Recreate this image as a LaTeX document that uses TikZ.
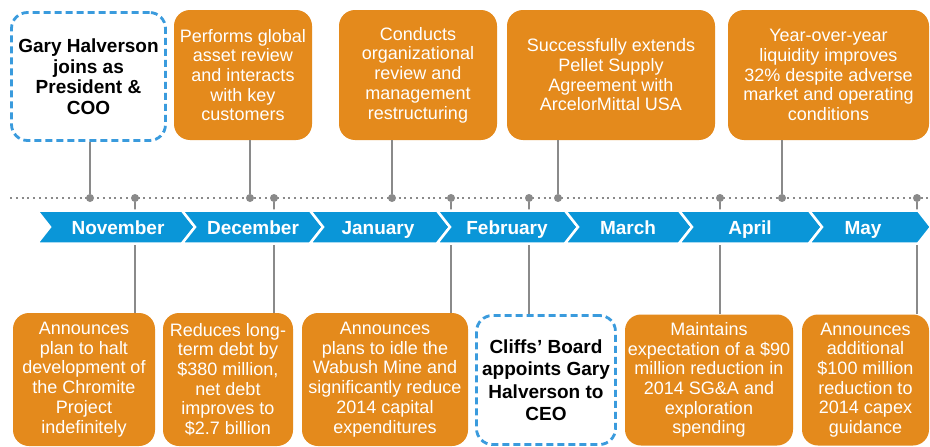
\documentclass[tikz,border=0pt]{standalone}
\usepackage{fontspec}
\setmainfont{Liberation Sans}
\definecolor{orng}{HTML}{E48A1C}
\definecolor{chev}{HTML}{0A96D8}
\definecolor{dashb}{HTML}{3A9BDD}
\definecolor{lgray}{HTML}{8A8A8A}
\begin{document}
\begin{tikzpicture}[x=1pt,y=-1pt,
 obox/.style={fill=orng, rounded corners=16pt, text=white, align=center, font=\fontsize{18}{19.7}\selectfont, inner sep=0pt},
 dbox/.style={fill=white, draw=dashb, line width=2.8pt, dash pattern=on 7pt off 4pt, rounded corners=16pt, align=center, text=black, font=\bfseries\fontsize{19}{20.5}\selectfont, inner sep=0pt},
 conn/.style={draw=lgray, line width=1.5pt},
 tdot/.style={circle, fill=lgray, inner sep=0pt, minimum size=8pt},
 chevshape/.style={fill=chev, draw=white, line width=2.5pt, line join=miter},
 mlabel/.style={text=white, font=\bfseries\fontsize{19}{20}\selectfont, inner sep=0pt, anchor=base}
]
\useasboundingbox[fill=white] (0,0) rectangle (930,447);

% dotted timeline
\coordinate (dl) at (10,198);
\coordinate (dr) at (930,198);
\draw[draw=lgray, line width=2pt, dash pattern=on 2pt off 3.8pt] (dl) -- (dr);

% dots
\foreach \n/\x in {a/90, b/135, c/250, d/274, e/392, f/451, g/529, h/558, i/720, j/782, k/917}
  \node[tdot] (d\n) at (\x,198) {};

% top boxes
\node[dbox, minimum width=154pt, minimum height=128pt] (t1) at (88.5,76.5) {Gary Halverson\\joins as\\President \&\\COO};
\node[obox, minimum width=138pt, minimum height=130pt] (t2) at (243,75) {Performs global\\asset review\\and interacts\\with key\\customers};
\node[obox, minimum width=158pt, minimum height=130pt] (t3) at (418,75) {Conducts\\organizational\\review and\\management\\restructuring};
\node[obox, minimum width=208pt, minimum height=130pt] (t4) at (611,75) {Successfully extends\\Pellet Supply\\Agreement with\\ArcelorMittal USA};
\node[obox, minimum width=201pt, minimum height=130pt] (t5) at (828.5,75) {Year-over-year\\liquidity improves\\32\% despite adverse\\market and operating\\conditions};

% bottom boxes
\node[obox, minimum width=142pt, minimum height=133pt] (b1) at (84,379.5) {Announces\\plan to halt\\development of\\the Chromite\\Project\\indefinitely};
\node[obox, minimum width=130pt, minimum height=133pt] (b2) at (228,379.5) {Reduces long-\\term debt by\\\$380 million,\\net debt\\improves to\\\$2.7 billion};
\node[obox, minimum width=166pt, minimum height=133pt] (b3) at (385,379.5) {Announces\\plans to idle the\\Wabush Mine and\\significantly reduce\\2014 capital\\expenditures};
\node[dbox, minimum width=139pt, minimum height=129pt, font=\bfseries\fontsize{19}{22.5}\selectfont] (b4) at (546,380) {Cliffs’ Board\\appoints Gary\\Halverson to\\CEO};
\node[obox, minimum width=168pt, minimum height=131pt] (b5) at (709,380) {Maintains\\expectation of a \$90\\million reduction in\\2014 SG\&A and\\exploration\\spending};
\node[obox, minimum width=127pt, minimum height=131pt] (b6) at (865.5,380) {Announces\\additional\\\$100 million\\reduction to\\2014 capex\\guidance};

% connectors
\draw[conn] (da) -- (da |- t1.south);
\draw[conn] (dc) -- (dc |- t2.south);
\draw[conn] (de) -- (de |- t3.south);
\draw[conn] (dh) -- (dh |- t4.south);
\draw[conn] (dj) -- (dj |- t5.south);
\draw[conn] (db) -- (db |- b1.north);
\draw[conn] (dd) -- (dd |- b2.north);
\draw[conn] (df) -- (df |- b3.north);
\draw[conn] (dg) -- (dg |- b4.north);
\draw[conn] (di) -- (di |- b5.north);
\draw[conn] (dk) -- (dk |- b6.north);

% chevrons
\foreach \a/\b in {50/195, 195/323, 323/450, 450/578, 578/692, 692/822, 822/931}
  \draw[chevshape] (\a-13,210.5) -- (\b-13,210.5) -- (\b,227) -- (\b-13,243.5) -- (\a-13,243.5) -- (\a,227) -- cycle;

% month labels
\node[mlabel] (m1) at (118,234) {November};
\node[mlabel] (m2) at (253,234) {December};
\node[mlabel] (m3) at (378,234) {January};
\node[mlabel] (m4) at (507,234) {February};
\node[mlabel] (m5) at (628,234) {March};
\node[mlabel] (m6) at (750,234) {April};
\node[mlabel] (m7) at (863,234) {May};
\end{tikzpicture}
\end{document}
